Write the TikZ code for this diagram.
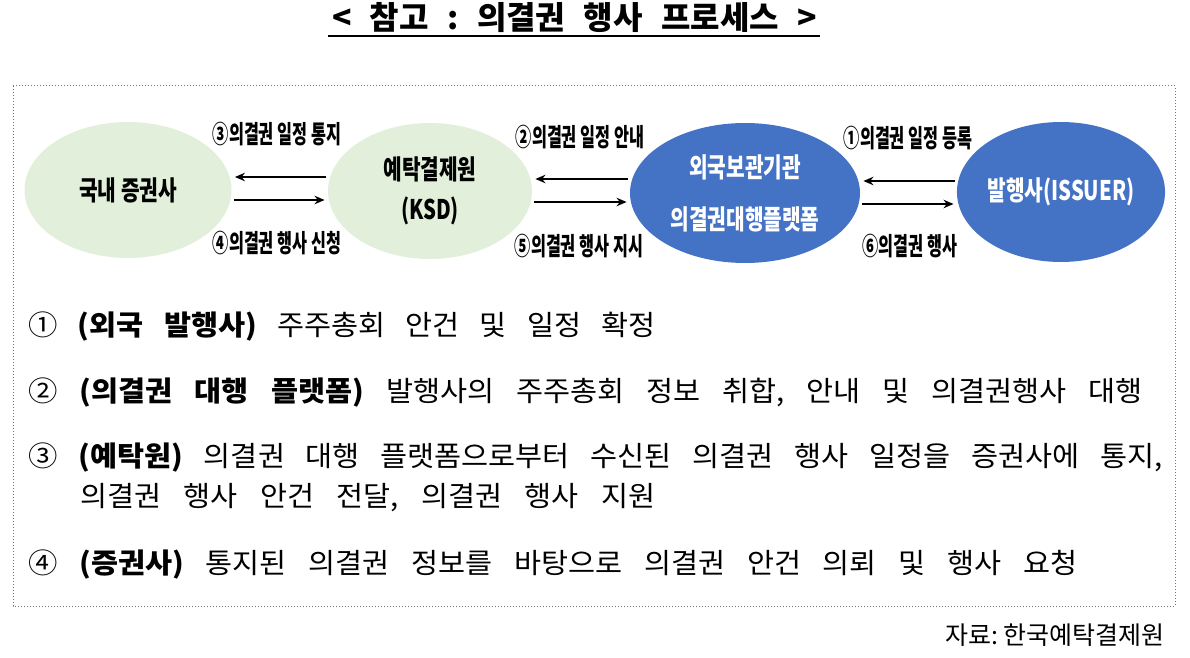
\documentclass[tikz,border=0pt]{standalone}
\usepackage{fontspec}
\setmainfont{Noto Sans CJK KR}
\newfontfamily\widekr[FakeStretch=1.05]{Noto Sans CJK KR}
\newfontfamily\narrowkr[FakeStretch=0.75]{Noto Sans CJK KR}
\newfontfamily\slimkr[FakeStretch=0.65]{Noto Sans CJK KR}
\frenchspacing
\usetikzlibrary{arrows.meta,shapes.geometric}
\definecolor{paleGreen}{RGB}{226,239,218}
\definecolor{midBlue}{RGB}{68,114,196}

\begin{document}
\begin{tikzpicture}[x=0.5pt, y=-0.5pt, every node/.style={inner sep=0pt},
    party/.style={ellipse, minimum width=103.5pt, minimum height=68pt, align=center,
        font=\narrowkr\bfseries\fontsize{13.5}{20}\selectfont},
    green party/.style={party, fill=paleGreen, text=black},
    blue party/.style={party, fill=midBlue, text=white},
    flow/.style={-{Stealth[length=5pt,width=4.2pt]}, line width=0.9pt, shorten >=1.5pt, shorten <=1pt},
    tag/.style={font=\slimkr\bfseries\fontsize{12.5}{14}\selectfont},
    body/.style={anchor=west, font=\widekr\fontsize{14}{16}\selectfont}]
    \useasboundingbox (0,0) rectangle (1190,658);
    % title
    \node[font=\bfseries\fontsize{16}{18}\selectfont] (title) at (574.5,18)
        {\makebox[242.5pt][s]{< 참고 : 의결권 행사 프로세스 >}};
    \draw[line width=1pt] (328,36) -- (820,36);
    \draw[black!55, densely dotted, line width=0.5pt] (13,86) rectangle (1175,606);
    % parties
    \node[green party] (broker) at (128,190) {국내 증권사};
    \node[green party, minimum width=102pt] (ksd) at (430,191) {예탁결제원\\(KSD)};
    \node[blue party, minimum width=115pt, minimum height=70pt,
        font=\narrowkr\bfseries\fontsize{13.5}{26}\selectfont] (platform) at (745,193)
        {외국보관기관\\의결권대행플랫폼};
    \node[blue party, minimum height=70pt] (issuer) at (1061,192) {발행사(ISSUER)};
    % flows
    \draw[flow] (ksd.west |- 0,177) -- (broker.east |- 0,177);
    \draw[flow] (broker.east |- 0,200) -- (ksd.west |- 0,200);
    \draw[flow] (platform.west |- 0,179) -- (ksd.east |- 0,179);
    \draw[flow] (ksd.east |- 0,202) -- (platform.west |- 0,202);
    \draw[flow] (issuer.west |- 0,181) -- (platform.east |- 0,181);
    \draw[flow] (platform.east |- 0,204) -- (issuer.west |- 0,204);
    \node[tag] (l3) at (277,134) {③의결권 일정 통지};
    \node[tag] (l4) at (277,243) {④의결권 행사 신청};
    \node[tag] (l2) at (580,137) {②의결권 일정 안내};
    \node[tag] (l5) at (579,246) {⑤의결권 행사 지시};
    \node[tag] (l1) at (908,138) {①의결권 일정 등록};
    \node[tag] (l6) at (910,246) {⑥의결권 행사};
    % notes
    \node[body] (n1) at (28,327)
        {\makebox[313.5pt][s]{① \textbf{(외국 발행사)} 주주총회 안건 및 일정 확정}};
    \node[body] (n2) at (28,393)
        {\makebox[557pt][s]{② \textbf{(의결권 대행 플랫폼)} 발행사의 주주총회 정보 취합, 안내 및 의결권행사 대행}};
    \node[body] (n3) at (28,458)
        {\makebox[567pt][s]{③ \textbf{(예탁원)} 의결권 대행 플랫폼으로부터 수신된 의결권 행사 일정을 증권사에 통지,}};
    \node[body] (n3b) at (80,498)
        {\makebox[287.5pt][s]{의결권 행사 안건 전달, 의결권 행사 지원}};
    \node[body] (n4) at (28,565)
        {\makebox[524.5pt][s]{④ \textbf{(증권사)} 통지된 의결권 정보를 바탕으로 의결권 안건 의뢰 및 행사 요청}};
    \node[anchor=east, font=\fontsize{12.5}{14}\selectfont] (source) at (1165,635) {자료: 한국예탁결제원};
\end{tikzpicture}
\end{document}
